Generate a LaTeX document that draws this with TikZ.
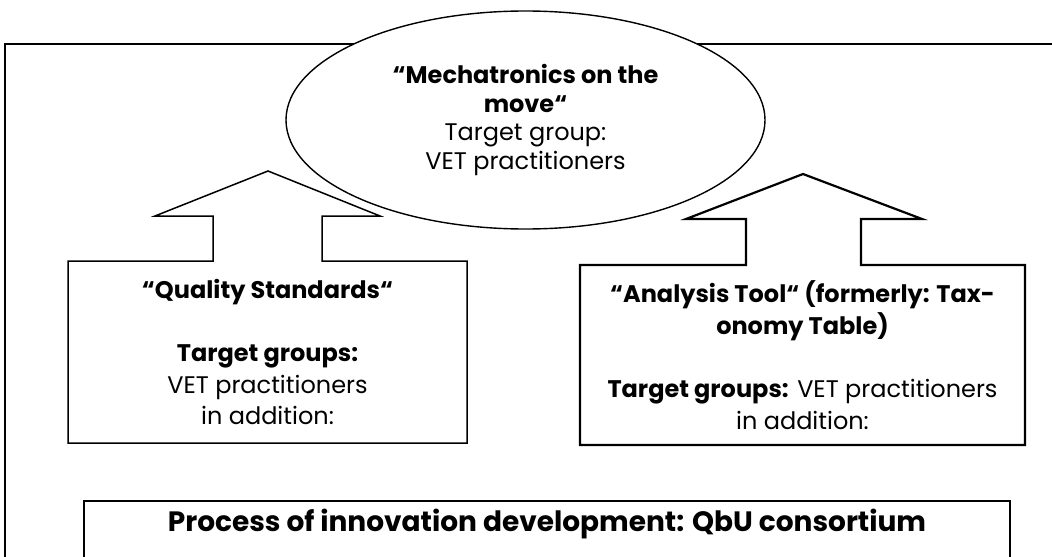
\documentclass[tikz,border=0pt]{standalone}
\usepackage{fontspec}
\setmainfont{Poppins}
\usetikzlibrary{shapes.geometric}

\tikzset{
    frame/.style={draw,line width=0.8pt},
    outline/.style={draw,line width=0.75pt,line join=miter},
    label/.style={align=center,inner sep=0pt,font=\fontsize{12}{15.8}\selectfont},
    project/.style={ellipse,draw,line width=0.7pt,fill=white,align=center,inner sep=0pt,
        minimum width=239.5pt,minimum height=109pt,font=\fontsize{12}{14.2}\selectfont},
    }

\begin{document}
\begin{tikzpicture}[x=0.5pt,y=-0.5pt]
	\useasboundingbox (0,0) rectangle (1052,556);
	\clip (0,0) rectangle (1052,556);
	\draw[frame] (5,44) rectangle (1080,600);
	% box with its arrow pointing up, left
	\draw[outline] (213,261) -- (213,216) -- (155,216) -- (268,171) -- (380,216)
		-- (322,216) -- (322,261) -- (467,261) -- (467,443) -- (68,443) -- (68,261) -- cycle;
	% box with its arrow pointing up, right
	\draw[outline,line width=1.1pt] (746,265) -- (746,219) -- (686,219) -- (803,174) -- (922,219)
		-- (861,219) -- (861,265) -- (1025,265) -- (1025,445) -- (580,445) -- (580,265) -- cycle;
	\node[label] (quality) at (267.5,352) {\textbf{“Quality Standards“}\\[15.8pt]
		\textbf{Target groups:}\\ VET practitioners\\ in addition:};
	\node[label] (analysis) at (802.5,355) {\textbf{“Analysis Tool“ (formerly: Tax-}\\
		\textbf{onomy Table)}\\[15.8pt] \textbf{Target groups:} VET practitioners\\ in addition:};
	\node[project] (mechatronics) at (525.5,120) {\textbf{“Mechatronics on the}\\
		\textbf{move“}\\ Target group:\\ VET practitioners};
	% consortium box, runs off the bottom
	\draw[frame] (84,600) -- (84,501) -- (1010,501) -- (1010,600);
	\node[label,anchor=base,font=\fontsize{14}{16}\selectfont] (consortium) at (547,531)
		{\textbf{Process of innovation development: QbU consortium}};
\end{tikzpicture}
\end{document}
